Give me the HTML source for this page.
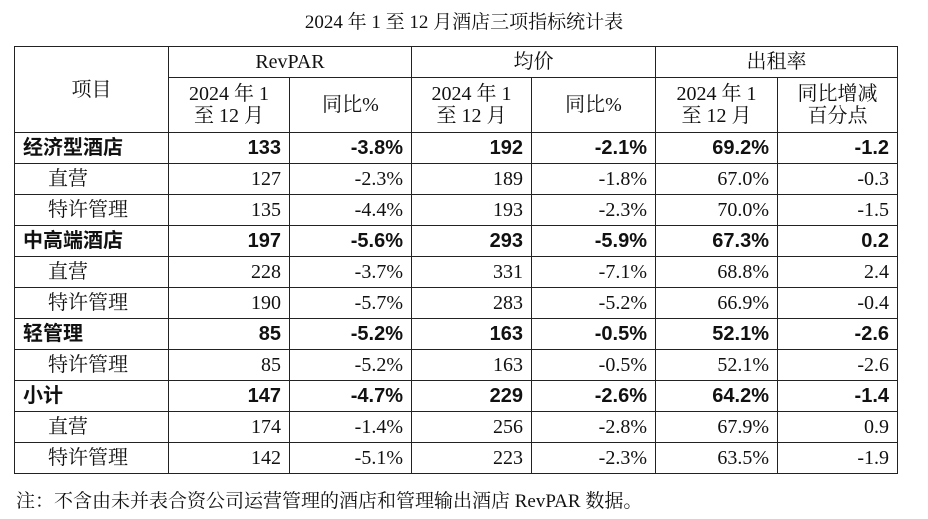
<!DOCTYPE html>
<html><head><meta charset="utf-8">
<style>
html,body{margin:0;padding:0;background:#fff;width:928px;height:519px;overflow:hidden}
body{font-family:"Liberation Serif","Noto Serif CJK SC",serif;color:#111;position:relative}
.title{position:absolute;left:0;width:928px;top:7px;text-align:center;font-size:19px}
table{position:absolute;left:14px;top:46px;border-collapse:collapse;table-layout:fixed}
td{border:1.5px solid #222;padding:0 8px;font-size:20px;height:30px;line-height:22px;white-space:nowrap}
td.c{text-align:center;padding:0}
td.r{text-align:right}
td.l{text-align:left}
tr.h1 td{height:30px}
tr.h2 td{height:54px}
tr.b td{font-family:"Liberation Sans","Noto Sans CJK SC",sans-serif;font-weight:bold}
td.sub{padding-left:33px}
.note{position:absolute;left:16px;top:486px;font-size:19px}
</style></head><body>
<div class="title">2024 年 1 至 12 月酒店三项指标统计表</div>
<table>
<colgroup><col style="width:154px"><col style="width:121px"><col style="width:122px"><col style="width:120px"><col style="width:124px"><col style="width:122px"><col style="width:120px"></colgroup>
<tr class="h1">
<td class="c" rowspan="2">项目</td>
<td class="c" colspan="2">RevPAR</td>
<td class="c" colspan="2">均价</td>
<td class="c" colspan="2">出租率</td>
</tr>
<tr class="h2">
<td class="c">2024 年 1<br>至 12 月</td>
<td class="c">同比%</td>
<td class="c">2024 年 1<br>至 12 月</td>
<td class="c">同比%</td>
<td class="c">2024 年 1<br>至 12 月</td>
<td class="c">同比增减<br>百分点</td>
</tr>
<tr class="b"><td class="l">经济型酒店</td><td class="r">133</td><td class="r">-3.8%</td><td class="r">192</td><td class="r">-2.1%</td><td class="r">69.2%</td><td class="r">-1.2</td></tr>
<tr><td class="sub">直营</td><td class="r">127</td><td class="r">-2.3%</td><td class="r">189</td><td class="r">-1.8%</td><td class="r">67.0%</td><td class="r">-0.3</td></tr>
<tr><td class="sub">特许管理</td><td class="r">135</td><td class="r">-4.4%</td><td class="r">193</td><td class="r">-2.3%</td><td class="r">70.0%</td><td class="r">-1.5</td></tr>
<tr class="b"><td class="l">中高端酒店</td><td class="r">197</td><td class="r">-5.6%</td><td class="r">293</td><td class="r">-5.9%</td><td class="r">67.3%</td><td class="r">0.2</td></tr>
<tr><td class="sub">直营</td><td class="r">228</td><td class="r">-3.7%</td><td class="r">331</td><td class="r">-7.1%</td><td class="r">68.8%</td><td class="r">2.4</td></tr>
<tr><td class="sub">特许管理</td><td class="r">190</td><td class="r">-5.7%</td><td class="r">283</td><td class="r">-5.2%</td><td class="r">66.9%</td><td class="r">-0.4</td></tr>
<tr class="b"><td class="l">轻管理</td><td class="r">85</td><td class="r">-5.2%</td><td class="r">163</td><td class="r">-0.5%</td><td class="r">52.1%</td><td class="r">-2.6</td></tr>
<tr><td class="sub">特许管理</td><td class="r">85</td><td class="r">-5.2%</td><td class="r">163</td><td class="r">-0.5%</td><td class="r">52.1%</td><td class="r">-2.6</td></tr>
<tr class="b"><td class="l">小计</td><td class="r">147</td><td class="r">-4.7%</td><td class="r">229</td><td class="r">-2.6%</td><td class="r">64.2%</td><td class="r">-1.4</td></tr>
<tr><td class="sub">直营</td><td class="r">174</td><td class="r">-1.4%</td><td class="r">256</td><td class="r">-2.8%</td><td class="r">67.9%</td><td class="r">0.9</td></tr>
<tr><td class="sub">特许管理</td><td class="r">142</td><td class="r">-5.1%</td><td class="r">223</td><td class="r">-2.3%</td><td class="r">63.5%</td><td class="r">-1.9</td></tr>
</table>
<div class="note">注：不含由未并表合资公司运营管理的酒店和管理输出酒店 RevPAR 数据。</div>
</body></html>
